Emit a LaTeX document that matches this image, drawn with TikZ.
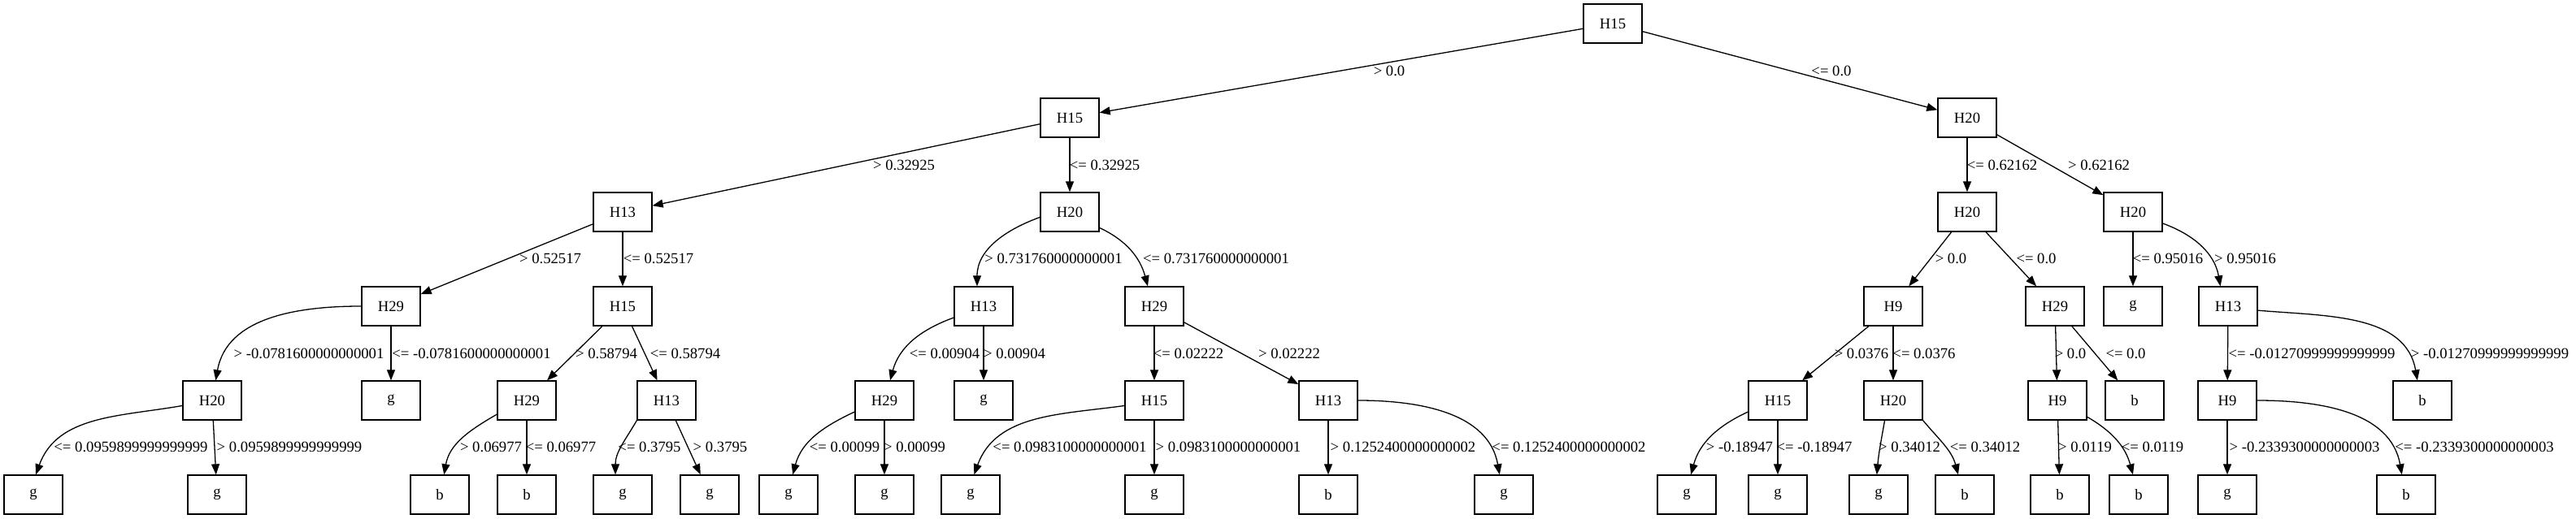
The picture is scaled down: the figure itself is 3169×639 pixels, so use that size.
\documentclass[tikz,border=0pt]{standalone}
\usepackage{fontspec}
\setmainfont{Liberation Serif}
\usetikzlibrary{arrows.meta}

\begin{document}
\begin{tikzpicture}[x=1pt,y=1pt,line width=1.3pt,>={Triangle[length=13pt,width=10pt]},
    font=\fontsize{18.67}{22}\selectfont,
    box/.style={draw,rectangle,minimum width=72pt,minimum height=48pt,inner sep=0pt},
    lbl/.style={inner sep=0pt}]

\useasboundingbox (0,0) rectangle (3169,639);

\node[box] (r) at (1984,610) {H15};

\node[box] (a) at (1316,494) {H15};
\node[box] (b) at (2420,494) {H20};

\node[box] (aa) at (766,378) {H13};
\node[box] (ab) at (1316,378) {H20};
\node[box] (ba) at (2420,378) {H20};
\node[box] (bb) at (2624,378) {H20};

\node[box] (aaa) at (481,262) {H29};
\node[box] (aab) at (766,262) {H15};
\node[box] (aba) at (1210,262) {H13};
\node[box] (abb) at (1420,262) {H29};
\node[box] (baa) at (2329,262) {H9};
\node[box] (bab) at (2528,262) {H29};
\node[box] (bba) at (2624,262) {g};
\node[box] (bbb) at (2741,262) {H13};

\node[box] (aaaa) at (261,146) {H20};
\node[box] (aaab) at (481,146) {g};
\node[box] (aaba) at (648,146) {H29};
\node[box] (aabb) at (820,146) {H13};
\node[box] (abaa) at (1088,146) {H29};
\node[box] (abab) at (1210,146) {g};
\node[box] (abba) at (1420,146) {H15};
\node[box] (abbb) at (1634,146) {H13};
\node[box] (baaa) at (2187,146) {H15};
\node[box] (baab) at (2329,146) {H20};
\node[box] (baba) at (2531,146) {H9};
\node[box] (babb) at (2626,146) {b};
\node[box] (bbba) at (2740,146) {H9};
\node[box] (bbbb) at (2980,146) {b};

\node[box] (aaaa1) at (41,30) {g};
\node[box] (aaaa2) at (267,30) {g};
\node[box] (aaba1) at (541,30) {b};
\node[box] (aaba2) at (648,30) {b};
\node[box] (aabb1) at (766,30) {g};
\node[box] (aabb2) at (873,30) {g};
\node[box] (abaa1) at (970,30) {g};
\node[box] (abaa2) at (1088,30) {g};
\node[box] (abba1) at (1194,30) {g};
\node[box] (abba2) at (1420,30) {g};
\node[box] (abbb1) at (1634,30) {b};
\node[box] (abbb2) at (1850,30) {g};
\node[box] (baaa1) at (2075,30) {g};
\node[box] (baaa2) at (2187,30) {g};
\node[box] (baab1) at (2311,30) {g};
\node[box] (baab2) at (2417,30) {b};
\node[box] (baba1) at (2534,30) {b};
\node[box] (baba2) at (2631,30) {b};
\node[box] (bbba1) at (2740,30) {g};
\node[box] (bbba2) at (2960,30) {b};

\draw[->] (r) -- (a);
\draw[->] (r) -- (b);

\draw[->] (a) -- (aa);
\draw[->] (a) -- (ab);
\draw[->] (b) -- (ba);
\draw[->] (b) -- (bb);

\draw[->] (aa) -- (aaa);
\draw[->] (aa) -- (aab);
\draw[->] (ab.190) to[out=200,in=90] (aba.108);
\draw[->] (ab.-28) to[out=-25,in=105] (abb.108);
\draw[->] (ba) -- (baa);
\draw[->] (ba) -- (bab);
\draw[->] (bb) -- (bba);
\draw[->] (bb.-21) to[out=-20,in=100] (bbb.111);

\draw[->] (aaa.west) to[out=180,in=80] (aaaa.80);
\draw[->] (aaa) -- (aaab);
\draw[->] (aab) -- (aaba);
\draw[->] (aab) -- (aabb);
\draw[->] (aba.201) to[out=200,in=75] (abaa.74);
\draw[->] (aba) -- (abab);
\draw[->] (abb) -- (abba);
\draw[->] (abb) -- (abbb);
\draw[->] (baa) -- (baaa);
\draw[->] (baa) -- (baab);
\draw[->] (bab) -- (baba);
\draw[->] (bab) -- (babb);
\draw[->] (bbb) -- (bbba);
\draw[->] (bbb.-8) to[out=-5,in=100] (bbbb.104);

\draw[->] (aaaa.190) to[out=190,in=70] (aaaa1.83);
\draw[->] (aaaa) -- (aaaa2);
\draw[->] (aaba.205) to[out=210,in=80] (aaba1.78);
\draw[->] (aaba) -- (aaba2);
\draw[->] (aabb.south west) to[out=240,in=90] (aabb1.110);
\draw[->] (aabb) -- (aabb2);
\draw[->] (abaa.201) to[out=205,in=75] (abaa1.78);
\draw[->] (abaa) -- (abaa2);
\draw[->] (abba.190) to[out=188,in=70] (abba1.80);
\draw[->] (abba) -- (abba2);
\draw[->] (abbb) -- (abbb1);
\draw[->] (abbb.east) to[out=0,in=100] (abbb2.102);
\draw[->] (baaa.201) to[out=205,in=75] (baaa1.78);
\draw[->] (baaa) -- (baaa2);
\draw[->] (baab.-113) to[out=260,in=85] (baab1.95);
\draw[->] (baab.south east) to[out=-50,in=105] (baab2.108);
\draw[->] (baba) -- (baba1);
\draw[->] (baba.-29) to[out=-30,in=105] (baba2.106);
\draw[->] (bbba) -- (bbba1);
\draw[->] (bbba.east) to[out=0,in=100] (bbba2.102);

\node[lbl] (la) at (1709,552) {> 0.0};
\node[lbl] (lb) at (2253,552) {<= 0.0};

\node[lbl] (laa) at (1112,436) {> 0.32925};
\node[lbl] (lab) at (1359,436) {<= 0.32925};
\node[lbl] (lba) at (2463,436) {<= 0.62162};
\node[lbl] (lbb) at (2582,436) {> 0.62162};

\node[lbl] (laaa) at (677,321) {> 0.52517};
\node[lbl] (laab) at (810,321) {<= 0.52517};
\node[lbl] (laba) at (1296,321) {> 0.731760000000001};
\node[lbl] (labb) at (1496,321) {<= 0.731760000000001};
\node[lbl] (lbaa) at (2400,321) {> 0.0};
\node[lbl] (lbab) at (2505,321) {<= 0.0};
\node[lbl] (lbba) at (2667,321) {<= 0.95016};
\node[lbl] (lbbb) at (2762,321) {> 0.95016};

\node[lbl] (laaaa) at (380,204) {> -0.0781600000000001};
\node[lbl] (laaab) at (580,204) {<= -0.0781600000000001};
\node[lbl] (laaba) at (746,204) {> 0.58794};
\node[lbl] (laabb) at (843,204) {<= 0.58794};
\node[lbl] (labaa) at (1162,204) {<= 0.00904};
\node[lbl] (labab) at (1248,204) {> 0.00904};
\node[lbl] (labba) at (1462,204) {<= 0.02222};
\node[lbl] (labbb) at (1586,204) {> 0.02222};
\node[lbl] (lbaaa) at (2290,204) {> 0.0376};
\node[lbl] (lbaab) at (2367,204) {<= 0.0376};
\node[lbl] (lbaba) at (2547,204) {> 0.0};
\node[lbl] (lbabb) at (2615,204) {<= 0.0};
\node[lbl] (lbbba) at (2844,204) {<= -0.01270999999999999};
\node[lbl] (lbbbb) at (3063,204) {> -0.01270999999999999};

\node[lbl] (laaaa1) at (161,89) {<= 0.0959899999999999};
\node[lbl] (laaaa2) at (356,89) {> 0.0959899999999999};
\node[lbl] (laaba1) at (604,89) {> 0.06977};
\node[lbl] (laaba2) at (690,89) {<= 0.06977};
\node[lbl] (laabb1) at (799,89) {<= 0.3795};
\node[lbl] (laabb2) at (886,89) {> 0.3795};
\node[lbl] (labaa1) at (1039,89) {<= 0.00099};
\node[lbl] (labaa2) at (1125,89) {> 0.00099};
\node[lbl] (labba1) at (1316,89) {<= 0.0983100000000001};
\node[lbl] (labba2) at (1511,89) {> 0.0983100000000001};
\node[lbl] (labbb1) at (1726,89) {> 0.1252400000000002};
\node[lbl] (labbb2) at (1930,89) {<= 0.1252400000000002};
\node[lbl] (lbaaa1) at (2140,89) {> -0.18947};
\node[lbl] (lbaaa2) at (2232,89) {<= -0.18947};
\node[lbl] (lbaab1) at (2349,89) {> 0.34012};
\node[lbl] (lbaab2) at (2442,89) {<= 0.34012};
\node[lbl] (lbaba1) at (2565,89) {> 0.0119};
\node[lbl] (lbaba2) at (2648,89) {<= 0.0119};
\node[lbl] (lbbba1) at (2835,89) {> -0.2339300000000003};
\node[lbl] (lbbba2) at (3044,89) {<= -0.2339300000000003};

\end{tikzpicture}
\end{document}
